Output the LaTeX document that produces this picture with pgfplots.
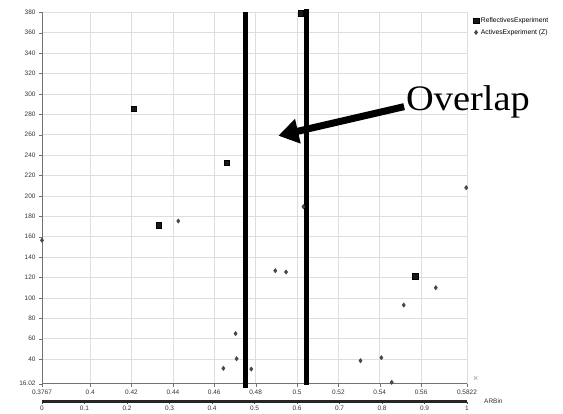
\documentclass[border=0pt]{standalone}
\usepackage{pgfplots}
\pgfplotsset{compat=1.18}
\usepackage{fontspec}
\setmainfont{Liberation Sans}
\newfontfamily\ovlfont{Liberation Serif}
\usetikzlibrary{arrows.meta}
\begin{document}
\begin{tikzpicture}
\begin{axis}[
  name=main,
  at={(0,0)}, anchor=south west,
  scale only axis, width=425bp, height=371.3bp,
  xmin=0.3767, xmax=0.5822, ymin=16.02, ymax=380,
  clip=false,
  axis lines=left,
  axis line style={black!55, -},
  xtick={0.3767,0.4,0.42,0.44,0.46,0.48,0.5,0.52,0.54,0.56,0.5822},
  xticklabels={0.3767,0.4,0.42,0.44,0.46,0.48,0.5,0.52,0.54,0.56,0.5822},
  ytick={16.02,40,60,80,100,120,140,160,180,200,220,240,260,280,300,320,340,360,380},
  yticklabels={16.02,40,60,80,100,120,140,160,180,200,220,240,260,280,300,320,340,360,380},
  /pgf/number format/assume math mode=true,
  tick label style={font=\fontsize{6.5}{7}\selectfont, text=black!80},
  tick align=outside, major tick length=3bp,
  tick style={black!55},
  grid=major, grid style={black!13, line width=0.6pt},
  legend style={draw=none, fill=none, at={(1.012,0.995)}, anchor=north west,
    font=\fontsize{6.8}{7.5}\selectfont, row sep=1.5bp, inner sep=1bp},
  legend cell align=left,
  legend image code/.code={\draw[mark repeat=2,mark phase=2,#1] plot coordinates {(-2bp,0bp) (0bp,0bp) (2bp,0bp)};},
]
\addplot[only marks, mark=square*, mark size=2.8bp, black, mark options={fill=black!90}] coordinates {
(0.4210,285.5) (0.4332,171.2) (0.4661,232.5) (0.5017,379) (0.5571,121.2)
};
\addlegendentry{ReflectivesExperiment}
\addplot[only marks, mark=diamond*, mark size=2.2bp, black!75, mark options={fill=black!70}] coordinates {
(0.3767,156.5) (0.4426,175.4) (0.4644,31) (0.4703,65) (0.4708,40.4) (0.4779,30.3)
(0.4895,126.7) (0.4947,125.4) (0.5031,189.4) (0.5307,38.4) (0.5408,41.4)
(0.5458,17.3) (0.5516,93) (0.5671,110) (0.5818,208.1)
};
\addlegendentry{ActivesExperiment (Z)}
\addplot[forget plot, black, line width=5bp] coordinates {(0.4752,380) (0.4752,11.8)};
\addplot[forget plot, black, line width=5bp] coordinates {(0.5044,383) (0.5044,14.8)};
\draw[black, line width=7bp, -{Triangle[length=20bp,width=24bp]}] (axis cs:0.5518,287.5) -- (axis cs:0.4910,259.0);
\node[anchor=base west, inner sep=0pt, xscale=1.07, font=\ovlfont\fontsize{36}{38}\selectfont] at (axis cs:0.5527,284.2) {Overlap};
\node[anchor=center, inner sep=0pt, text=black!40, font=\fontsize{9}{10}\selectfont] at (axis description cs:1.0205,0.0116) {×};
\end{axis}
\begin{axis}[
  at={(0,-18bp)}, anchor=south west,
  scale only axis, width=425bp, height=1bp,
  xmin=0, xmax=1, ymin=0, ymax=1,
  axis x line*=bottom, axis y line=none,
  x axis line style={black!85, line width=3.5bp, -},
  xtick={0,0.1,...,1},
  /pgf/number format/assume math mode=true,
  tick label style={font=\fontsize{6.5}{7}\selectfont, text=black!80},
  tick align=outside, major tick length=2.5bp, tick style={black!70},
  xticklabel style={yshift=1.5bp},
  clip=false,
]
\node[anchor=west, inner sep=0pt, text=black!80, font=\fontsize{6.5}{7}\selectfont] at (rel axis cs:1,0) [xshift=17bp] {ARBin};
\end{axis}
\pgfresetboundingbox
\path[use as bounding box] (-42bp,-30.4bp) rectangle (521bp,383.6bp);
\end{tikzpicture}
\end{document}
